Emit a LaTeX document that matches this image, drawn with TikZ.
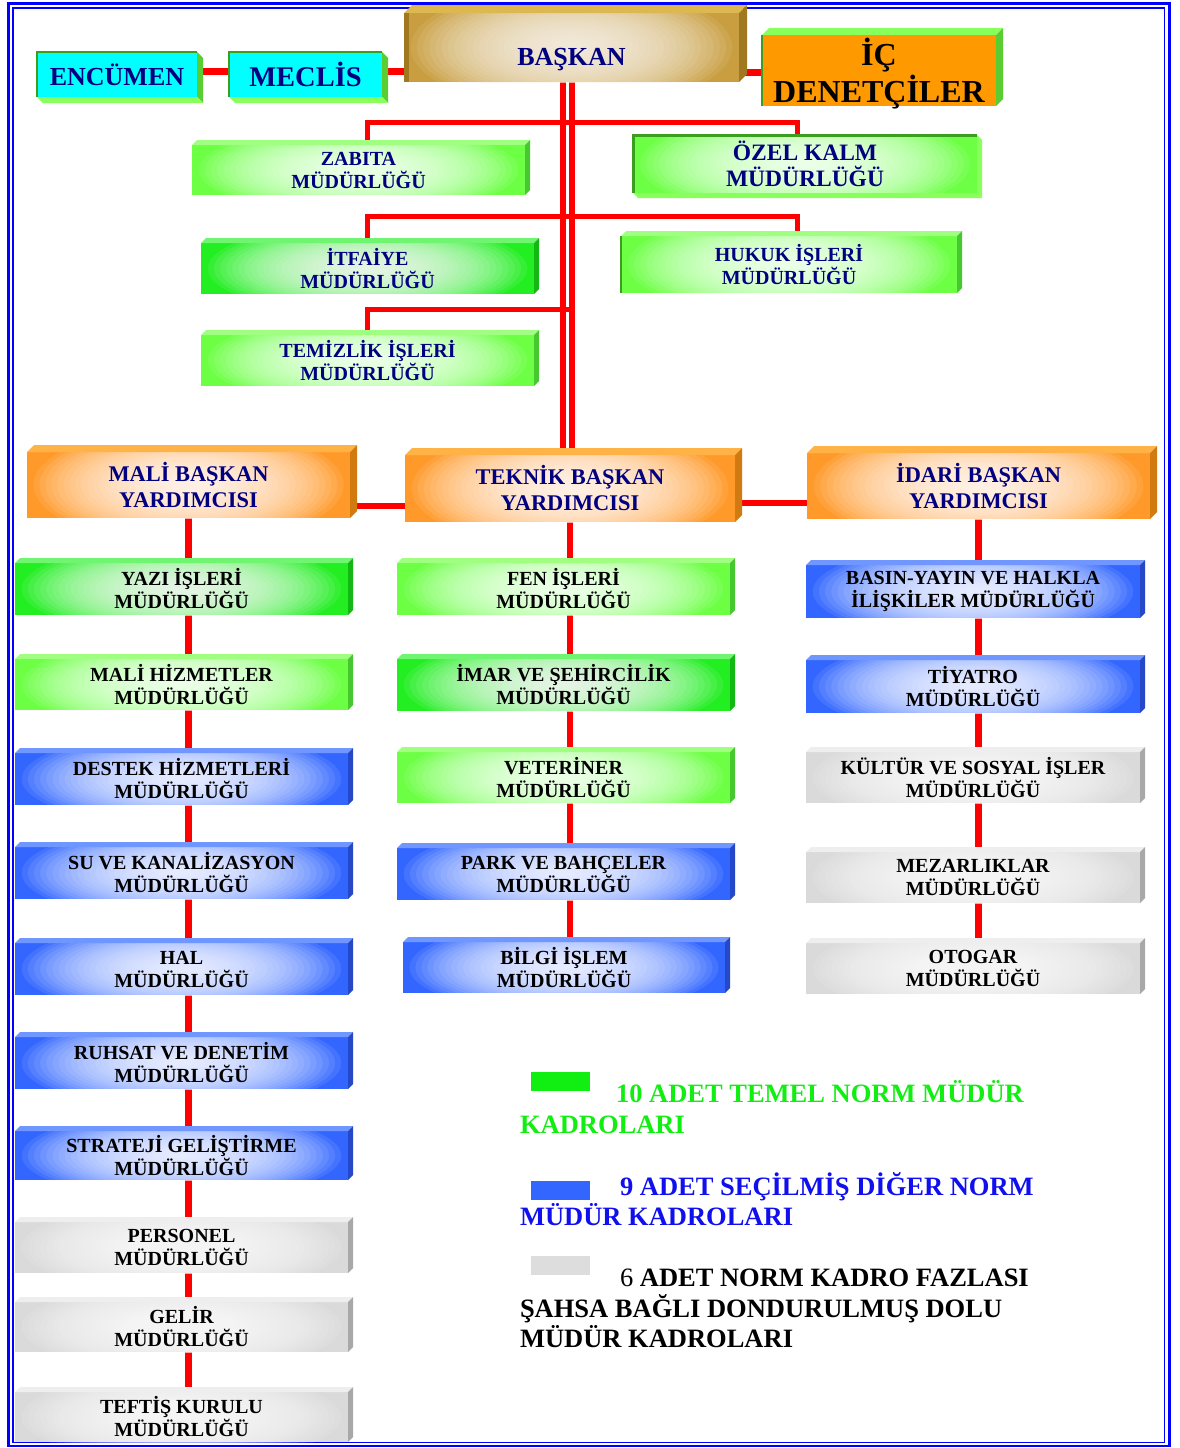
\documentclass[tikz,border=0pt]{standalone}
\usepackage{fontspec}
\setmainfont{Liberation Serif}
\definecolor{gA}{HTML}{6CFF44}
\definecolor{gAtop}{HTML}{A0FF80}
\definecolor{gAside}{HTML}{48C830}
\definecolor{gB}{HTML}{22EE22}
\definecolor{gBtop}{HTML}{70F570}
\definecolor{gBside}{HTML}{14B814}
\definecolor{bl}{HTML}{3366FF}
\definecolor{bltop}{HTML}{7097FF}
\definecolor{blside}{HTML}{2448C8}
\definecolor{gr}{HTML}{DADADA}
\definecolor{grtop}{HTML}{EEEEEE}
\definecolor{grside}{HTML}{A8A8A8}
\definecolor{orA}{HTML}{FF9A2A}
\definecolor{orAtop}{HTML}{FFB347}
\definecolor{orAside}{HTML}{D07A10}
\definecolor{gd}{HTML}{C89E40}
\definecolor{gdtop}{HTML}{DDB850}
\definecolor{gdside}{HTML}{A07820}
\colorlet{glowgA}{white}
\colorlet{glowgB}{white}
\colorlet{glowbl}{white}
\colorlet{glowgr}{white}
\colorlet{gloworA}{white}
\colorlet{glowgd}{white!92!gd}
\definecolor{navytxt}{HTML}{000080}
\definecolor{redl}{HTML}{FF0000}
\definecolor{darkg}{HTML}{3C9E1E}
\definecolor{lgreen}{HTML}{88FF5A}
\definecolor{midgreen}{HTML}{5ACD32}
\definecolor{cyanf}{HTML}{00FFFF}
\definecolor{icor}{HTML}{FF9900}
\definecolor{leggreen}{HTML}{11EE11}
\definecolor{legblue}{HTML}{1010EE}
\definecolor{legbox}{HTML}{3366FF}
\definecolor{leggrey}{HTML}{DDDDDD}
\definecolor{framebl}{HTML}{0000FF}
\pgfdeclarelayer{bg}
\pgfsetlayers{bg,main}
\newcommand\fA{\fontsize{20}{23}\selectfont\bfseries}
\newcommand\fV{\fontsize{22.4}{26}\selectfont\bfseries}
\newcommand\fZ{\fontsize{23.5}{26}\selectfont\bfseries}
\newcommand\fE{\fontsize{26}{30}\selectfont\bfseries}
\newcommand\fM{\fontsize{28.5}{32}\selectfont\bfseries}
\newcommand\fI{\fontsize{32}{37}\selectfont\bfseries}
\newcommand\fL{\fontsize{26.5}{31}\selectfont\bfseries}
\newcommand\bd{5}
\tikzset{
 face/.style={inner sep=0pt, outer sep=0pt, align=center},
 redc/.style={draw=redl, line width=6.5pt},
 redb/.style={draw=redl, line width=5pt},
 legtxt/.style={inner sep=0pt, outer sep=0pt, anchor=base west, font=\fL},
 legkey/.style={inner sep=0pt, outer sep=0pt, minimum width=59pt, minimum height=19pt},
}
% glowing face: colour #5 on rectangle (#1,#2)-(#3,#4)
\newcommand\glowface[5]{%
  \pgfmathsetmacro\gw{#3-#1}%
  \pgfmathsetmacro\gh{#4-#2}%
  \pgfmathsetmacro\gc{(#1+#3)/2}%
  \pgfmathsetmacro\gm{(#2+#4)/2}%
  \begin{scope}
    \clip (#1,#2) rectangle (#3,#4);
    \fill[#5] (#1,#2) rectangle (#3,#4);
    \foreach \k in {1,...,26}{%
      \fill[glow#5, opacity=0.085] (\gc,\gm) ellipse [x radius={\gw*0.48*(27-\k)/26}, y radius={\gh*0.9*(27-\k)/26}];
    }
  \end{scope}
}
\newcommand\obox[9]{%
  \glowface{#2}{#3}{#4}{#5}{#6}%
  \pgfmathsetmacro\bxw{#4-#2}%
  \pgfmathsetmacro\bxh{#5-#3}%
  \pgfmathsetmacro\bxc{(#2+#4)/2}%
  \pgfmathsetmacro\bxm{(#3+#5)/2}%
  \node[face, minimum width=\bxw pt, minimum height=\bxh pt, font=#7, text=#8] (#1) at (\bxc,\bxm) {#9};
  \fill[#6top] (#1.north west) -- ++(\bd,-\bd) -- ([shift={(\bd,-\bd)}]#1.north east) -- (#1.north east) -- cycle;
  \fill[#6side] (#1.north east) -- ([shift={(\bd,-\bd)}]#1.north east) -- ([shift={(\bd,-\bd)}]#1.south east) -- (#1.south east) -- cycle;
}
\begin{document}
\begin{tikzpicture}[x=1pt,y=-1pt]
\useasboundingbox (0,0) rectangle (1179,1448);
\begin{pgfonlayer}{bg}
\fill[white] (0,0) rectangle (1179,1448);
\end{pgfonlayer}
% frame
\draw[framebl, line width=2.5pt] (8.5,3.5) rectangle (1169.5,1446);
\draw[framebl, line width=1.5pt] (13,8) rectangle (1164.5,1442.5);

% top row
\node[face, fill=cyanf, minimum width=160pt, minimum height=45pt, font=\fE, text=navytxt] (encumen) at (117,74.5) {ENCÜMEN};
\fill[midgreen] (encumen.north east) -- ++(6,6) -- ([shift={(6,6)}]encumen.south east) -- (encumen.south east) -- cycle;
\fill[lgreen] (encumen.south west) -- ++(6,6) -- ([shift={(6,6)}]encumen.south east) -- (encumen.south east) -- cycle;
\draw[darkg, line width=1.2pt] (encumen.south west) -- (encumen.north west) -- (encumen.north east);

\node[face, fill=cyanf, minimum width=153pt, minimum height=45pt, font=\fM, text=navytxt] (meclis) at (305.5,74.5) {MECLİS};
\fill[midgreen] (meclis.north east) -- ++(6,6) -- ([shift={(6,6)}]meclis.south east) -- (meclis.south east) -- cycle;
\fill[lgreen] (meclis.south west) -- ++(6,6) -- ([shift={(6,6)}]meclis.south east) -- (meclis.south east) -- cycle;
\draw[darkg, line width=1.2pt] (meclis.south west) -- (meclis.north west) -- (meclis.north east);

\renewcommand\bd{8}
\obox{baskan}{404}{13}{739}{82}{gd}{\fE}{navytxt}{\raisebox{-12pt}[\height][\depth]{BAŞKAN}}
\fill[gdside] (baskan.north west) rectangle ([xshift=5pt]baskan.south west);

\node[face, fill=icor, minimum width=234pt, minimum height=67pt, font=\fI, text=black] (ic) at (879,70.5) {\raisebox{-3pt}[\height][\depth]{İÇ}\\\raisebox{-3pt}[\height][\depth]{DENETÇİLER}};
\fill[lgreen] (ic.north west) -- ++(7,-7) -- ([shift={(7,-7)}]ic.north east) -- (ic.north east) -- cycle;
\fill[midgreen] (ic.north east) -- ([shift={(7,-7)}]ic.north east) -- ([shift={(7,-7)}]ic.south east) -- (ic.south east) -- cycle;
\draw[darkg, line width=2pt] (ic.south west) -- (ic.north west);

% green top group
\renewcommand\bd{5}
\obox{zabita}{192}{145}{525}{195}{gA}{\fA}{navytxt}{ZABITA\\MÜDÜRLÜĞÜ}
\obox{itfaiye}{201}{243}{534}{294}{gB}{\fA}{navytxt}{İTFAİYE\\MÜDÜRLÜĞÜ}
\obox{temizlik}{201}{335}{534}{386}{gA}{\fA}{navytxt}{TEMİZLİK İŞLERİ\\MÜDÜRLÜĞÜ}
\obox{hukuk}{621}{236}{957}{293}{gA}{\fA}{navytxt}{HUKUK İŞLERİ\\MÜDÜRLÜĞÜ}
\draw[darkg, line width=2pt] (hukuk.south west) -- (hukuk.north west);

\glowface{633}{135}{977}{193}{gA}
\node[face, minimum width=344pt, minimum height=58pt, font=\fZ, text=navytxt] (ozel) at (805,164) {ÖZEL KALM\\MÜDÜRLÜĞÜ};
\fill[lgreen] (ozel.north east) -- ++(5,5) -- ([shift={(5,5)}]ozel.south east) -- (ozel.south east) -- cycle;
\fill[lgreen] (ozel.south west) -- ++(5,5) -- ([shift={(5,5)}]ozel.south east) -- (ozel.south east) -- cycle;
\draw[darkg, line width=3pt] (ozel.south west) -- (ozel.north west) -- (ozel.north east);

% vice presidents
\renewcommand\bd{7}
\obox{mali}{27}{452}{350}{518}{orA}{\fV}{navytxt}{MALİ BAŞKAN\\YARDIMCISI}
\obox{teknik}{405}{455}{735}{522}{orA}{\fV}{navytxt}{TEKNİK BAŞKAN\\YARDIMCISI}
\obox{idari}{807}{453}{1150}{519}{orA}{\fV}{navytxt}{İDARİ BAŞKAN\\YARDIMCISI}

% left column
\renewcommand\bd{5}
\obox{yazi}{15}{563}{348}{615}{gB}{\fA}{black}{YAZI İŞLERİ\\MÜDÜRLÜĞÜ}
\obox{malih}{15}{659}{348}{710}{gA}{\fA}{black}{MALİ HİZMETLER\\MÜDÜRLÜĞÜ}
\obox{destek}{15}{753}{348}{805}{bl}{\fA}{black}{DESTEK HİZMETLERİ\\MÜDÜRLÜĞÜ}
\obox{su}{15}{847}{348}{899}{bl}{\fA}{black}{SU VE KANALİZASYON\\MÜDÜRLÜĞÜ}
\obox{hal}{15}{943}{348}{995}{bl}{\fA}{black}{HAL\\MÜDÜRLÜĞÜ}
\obox{ruhsat}{15}{1037}{348}{1089}{bl}{\fA}{black}{RUHSAT VE DENETİM\\MÜDÜRLÜĞÜ}
\obox{strateji}{15}{1131}{348}{1180}{bl}{\fA}{black}{STRATEJİ GELİŞTİRME\\MÜDÜRLÜĞÜ}
\obox{personel}{15}{1222}{348}{1273}{gr}{\fA}{black}{PERSONEL\\MÜDÜRLÜĞÜ}
\obox{gelir}{15}{1302}{348}{1352}{gr}{\fA}{black}{GELİR\\MÜDÜRLÜĞÜ}
\obox{teftis}{15}{1392}{348}{1442}{gr}{\fA}{black}{TEFTİŞ KURULU\\MÜDÜRLÜĞÜ}

% middle column
\obox{fen}{397}{563}{730}{615}{gA}{\fA}{black}{FEN İŞLERİ\\MÜDÜRLÜĞÜ}
\obox{imar}{397}{659}{730}{711}{gB}{\fA}{black}{İMAR VE ŞEHİRCİLİK\\MÜDÜRLÜĞÜ}
\obox{veteriner}{397}{752}{730}{803}{gA}{\fA}{black}{VETERİNER\\MÜDÜRLÜĞÜ}
\obox{park}{397}{848}{730}{900}{bl}{\fA}{black}{PARK VE BAHÇELER\\MÜDÜRLÜĞÜ}
\obox{bilgi}{403}{942}{725}{993}{bl}{\fA}{black}{BİLGİ İŞLEM\\MÜDÜRLÜĞÜ}

% right column
\obox{basin}{806}{565}{1140}{618}{bl}{\fA}{black}{BASIN-YAYIN VE HALKLA\\İLİŞKİLER MÜDÜRLÜĞÜ}
\obox{tiyatro}{806}{660}{1140}{713}{bl}{\fA}{black}{TİYATRO\\MÜDÜRLÜĞÜ}
\obox{kultur}{806}{752}{1140}{803}{gr}{\fA}{black}{KÜLTÜR VE SOSYAL İŞLER\\MÜDÜRLÜĞÜ}
\obox{mezar}{806}{852}{1140}{903}{gr}{\fA}{black}{MEZARLIKLAR\\MÜDÜRLÜĞÜ}
\obox{otogar}{806}{943}{1140}{994}{gr}{\fA}{black}{OTOGAR\\MÜDÜRLÜĞÜ}

% connectors
\coordinate (j3) at (574,309);
\begin{pgfonlayer}{bg}
\draw[redc] ([yshift=3pt]encumen.east) -- ([yshift=3pt]encumen.east -| meclis.west);
\draw[redc] ([yshift=3pt]meclis.east) -- ([yshift=3pt]meclis.east -| baskan.west);
\draw[redc] ([yshift=-25pt]baskan.east) -- ([yshift=-25pt]baskan.east -| ic.west);
\draw[redc, line width=6pt] ([xshift=-8.5pt]baskan.south) -- ([xshift=-8.5pt]baskan.south |- teknik.north);
\draw[redc, line width=6pt] (baskan.south) -- (baskan.south |- teknik.north);
\draw[redb] ([xshift=9pt]zabita.north) -- ++(0,-23) -| ([xshift=-8pt]ozel.north);
\draw[redb] (itfaiye.north) -- ++(0,-27) -| ([xshift=8pt]hukuk.north);
\draw[redb] (temizlik.north) |- (j3);
\draw[redc] ([yshift=-21pt]mali.east) -- ([yshift=-21pt]mali.east -| teknik.west);
\draw[redc] ([yshift=-14.5pt]teknik.east) -- ([yshift=-14.5pt]teknik.east -| idari.west);
\foreach \a/\b in {mali/yazi, yazi/malih, malih/destek, destek/su, su/hal, hal/ruhsat, ruhsat/strateji, strateji/personel, personel/gelir, gelir/teftis}
  \draw[redc] (\a.south -| mali.south) -- (\b.north -| mali.south);
\foreach \a/\b in {teknik/fen, fen/imar, imar/veteriner, veteriner/park, park/bilgi}
  \draw[redc] (\a.south -| teknik.south) -- (\b.north -| teknik.south);
\foreach \a/\b in {idari/basin, basin/tiyatro, tiyatro/kultur, kultur/mezar, mezar/otogar}
  \draw[redc] (\a.south -| idari.south) -- (\b.north -| idari.south);
\end{pgfonlayer}

% legend
\node[legkey, fill=leggreen] (kg) at (560.5,1081) {};
\node[legkey, fill=legbox] (kb) at (560.5,1190.5) {};
\node[legkey, fill=leggrey] (kr) at (560.5,1265) {};
\node[legtxt, text=leggreen] (t1a) at (616,1102) {10 ADET TEMEL NORM MÜDÜR};
\node[legtxt, text=leggreen] (t1b) at (520,1133) {KADROLARI};
\node[legtxt, text=legblue] (t2a) at (620,1195) {9 ADET SEÇİLMİŞ DİĞER NORM};
\node[legtxt, text=legblue] (t2b) at (520,1225) {MÜDÜR KADROLARI};
\node[legtxt, text=black] (t3a) at (620,1286) {{\mdseries 6} ADET NORM KADRO FAZLASI};
\node[legtxt, text=black] (t3b) at (520,1317) {ŞAHSA BAĞLI DONDURULMUŞ DOLU};
\node[legtxt, text=black] (t3c) at (520,1347) {MÜDÜR KADROLARI};
\end{tikzpicture}
\end{document}
